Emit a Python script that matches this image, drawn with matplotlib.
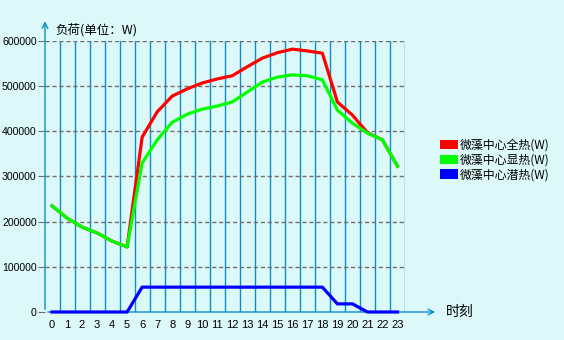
import matplotlib
matplotlib.use("Agg")
from matplotlib import pyplot as plt
from matplotlib.patches import Patch

plt.rcParams['font.family'] = ['Noto Sans CJK SC', 'DejaVu Sans']

# data
hours = list(range(24))
total_heat = [235000, 208000, 188000, 175000, 157000, 144000, 387000, 443000, 478000, 494000,
              507000, 516000, 523000, 543000, 562000, 574000, 582000, 578000, 573000, 465000,
              436000, 397000, 381000, 323000]
sensible_heat = [235000, 208000, 188000, 175000, 157000, 144000, 330000, 381000, 420000, 438000,
                 449000, 456000, 465000, 487000, 509000, 520000, 525000, 523000, 514000, 447000,
                 418000, 396000, 381000, 323000]
latent_heat = [0, 0, 0, 0, 0, 0, 55000, 55000, 55000, 55000,
               55000, 55000, 55000, 55000, 55000, 55000, 55000, 55000, 55000, 18000,
               18000, 0, 0, 0]
series_names = ['微藻中心全热(W)', '微藻中心显热(W)', '微藻中心潜热(W)']
y_ticks = [0, 100000, 200000, 300000, 400000, 500000, 600000]

bg = '#dcf8f8'
axis_col = '#0a90c8'

fig = plt.figure(figsize=(5.64, 3.4), dpi=100, facecolor=bg)
W, H = 564, 340
# plot area in pixels: x 45..405, y 41..312
ax = fig.add_axes([45 / W, (H - 312) / H, 360 / W, 271 / H])
ax.set_facecolor(bg)
ax.set_xlim(-7 / 15, 23.5)
ax.set_ylim(0, 600000)
for s in ax.spines.values():
    s.set_visible(False)

# grid
for k in hours:
    ax.axvline(k + 0.5, color=axis_col, lw=1.0, zorder=1)
for v in y_ticks[1:]:
    ax.axhline(v, color='#707070', lw=1.0, ls=(0, (3, 2)), zorder=1)

# axes with arrows
ax.annotate('', xy=(25.7, 0), xytext=(-7 / 15, 0), xycoords='data',
            arrowprops=dict(arrowstyle='->', color=axis_col, lw=1.0), annotation_clip=False, zorder=2)
ax.annotate('', xy=(-7 / 15, 650000), xytext=(-7 / 15, 0),
            arrowprops=dict(arrowstyle='->', color=axis_col, lw=1.0), annotation_clip=False, zorder=2)

colors = ['#ff0000', '#00ff00', '#0000ff']
for vals, c in zip([total_heat, sensible_heat, latent_heat], colors):
    ax.plot(hours, vals, color=c, lw=2.3, zorder=3, clip_on=False, solid_joinstyle='round')

ax.set_xticks(hours)
ax.set_xticklabels([str(h) for h in hours], fontsize=8, family='Liberation Sans')
ax.set_yticks(y_ticks)
ax.set_yticklabels([str(v) for v in y_ticks], fontsize=7.6, family='Liberation Sans')
ax.tick_params(axis='x', length=0, pad=6)
ax.tick_params(axis='y', length=5, color='#707070', pad=1)

fig.text(55 / W, 1 - 30 / H, '负荷(单位：W)', fontsize=9, va='center', ha='left')
fig.text(446 / W, 1 - 312 / H, '时刻', fontsize=10, va='center', ha='left')

handles = [Patch(facecolor=c, edgecolor='none') for c in colors]
fig.legend(handles, series_names, loc='center left', bbox_to_anchor=(434 / W, 1 - 160 / H),
           frameon=False, fontsize=8.6, handlelength=1.5, handleheight=0.85,
           handletextpad=0.2, labelspacing=0.15, borderpad=0)

fig.savefig('out.png', dpi=100, facecolor=bg)
